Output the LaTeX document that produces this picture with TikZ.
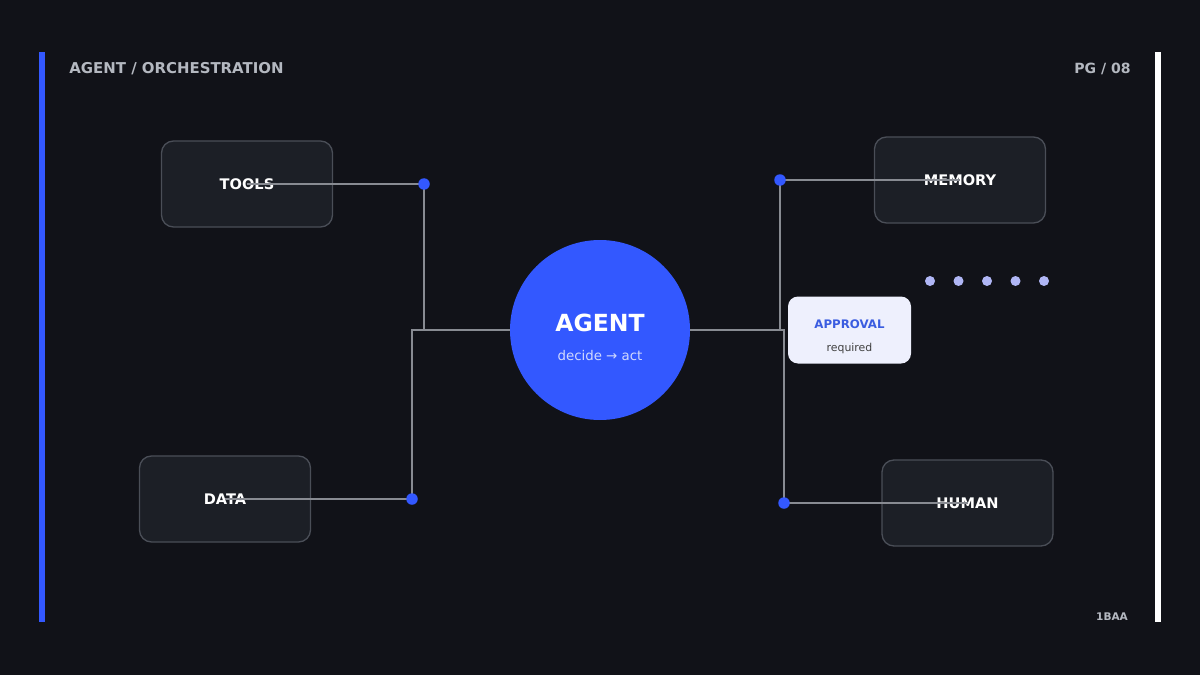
\documentclass[tikz,border=0pt]{standalone}
\usepackage{fontspec}
\setmainfont{DejaVu Sans}
\definecolor{bgdark}{HTML}{111218}
\definecolor{boxfill}{HTML}{1C1F26}
\definecolor{boxline}{HTML}{4A4E57}
\definecolor{wiregray}{HTML}{888B92}
\definecolor{agentblue}{HTML}{3358FF}
\definecolor{headgray}{HTML}{B4B8C0}
\definecolor{paleblue}{HTML}{EEF0FD}
\definecolor{approvalblue}{HTML}{3A5CE0}
\definecolor{lavender}{HTML}{B0B6F5}
\tikzset{
  block/.style={draw=boxline, line width=0.75pt, fill=boxfill, rounded corners=0.24cm,
    minimum width=3.42cm, minimum height=1.72cm, text=white,
    font=\fontsize{8.3}{10}\selectfont\bfseries},
  wire/.style={draw=wiregray, line width=1.1pt},
  joint/.style={circle, fill=agentblue, inner sep=0pt, minimum size=0.23cm},
  ghostdot/.style={circle, fill=lavender, inner sep=0pt, minimum size=0.2cm},
  header/.style={text=headgray, font=\fontsize{8.3}{10}\selectfont\bfseries, inner sep=0pt}
}
\begin{document}
\begin{tikzpicture}
\useasboundingbox[fill=bgdark] (0,0) rectangle (24,13.5);
\fill[agentblue] (0.78,1.06) rectangle (0.90,12.46);
\fill[white] (23.10,1.06) rectangle (23.22,12.46);
\node[header, anchor=west, font=\fontsize{8.5}{10}\selectfont\bfseries] (title) at (1.38,12.12) {AGENT / ORCHESTRATION};
\node[header, anchor=east, font=\fontsize{8}{10}\selectfont\bfseries] (page) at (22.62,12.12) {PG / 08};
\node[header, font=\fontsize{6}{7}\selectfont\bfseries] (code) at (22.24,1.16) {1BAA};
\node[block] (tools) at (4.94,9.82) {TOOLS};
\node[block] (data) at (4.50,3.52) {DATA};
\node[block] (memory) at (19.20,9.90) {MEMORY};
\node[block] (human) at (19.35,3.44) {HUMAN};
\node[circle, fill=agentblue, minimum size=3.6cm, inner sep=0pt] (agent) at (12,6.9) {};
\node[text=white, font=\fontsize{13.4}{15}\selectfont\bfseries] (agentname) at (12,7.04) {AGENT};
\node[text=paleblue!85!agentblue, font=\fontsize{7.6}{9}\selectfont] (agentnote) at (12,6.38) {decide → act};
\node[fill=paleblue, rounded corners=0.2cm, minimum width=2.46cm, minimum height=1.34cm] (approval) at (16.99,6.9) {};
\node[text=approvalblue, font=\fontsize{6.7}{8}\selectfont\bfseries] (approvalname) at (16.99,7.02) {APPROVAL};
\node[text=black!75, font=\fontsize{6.2}{7}\selectfont] (approvalnote) at (16.99,6.54) {required};
\foreach \i in {0,...,4}
  \node[ghostdot] (ghost\i) at (18.6+0.57*\i,7.88) {};
\coordinate (toolsjoint) at (8.48,9.82);
\coordinate (datajoint) at (8.24,3.52);
\coordinate (memoryjoint) at (15.60,9.90);
\coordinate (humanjoint) at (15.68,3.44);
\draw[wire] (tools.center) -- (toolsjoint) -- (toolsjoint |- agent);
\draw[wire] (data.center) -- (datajoint) |- (agent.west);
\draw[wire] (memory.center) -- (memoryjoint) -- (memoryjoint |- agent);
\draw[wire] (human.center) -- (humanjoint) |- (agent.east);
\node[joint] (toolsdot) at (toolsjoint) {};
\node[joint] (datadot) at (datajoint) {};
\node[joint] (memorydot) at (memoryjoint) {};
\node[joint] (humandot) at (humanjoint) {};
\end{tikzpicture}
\end{document}
